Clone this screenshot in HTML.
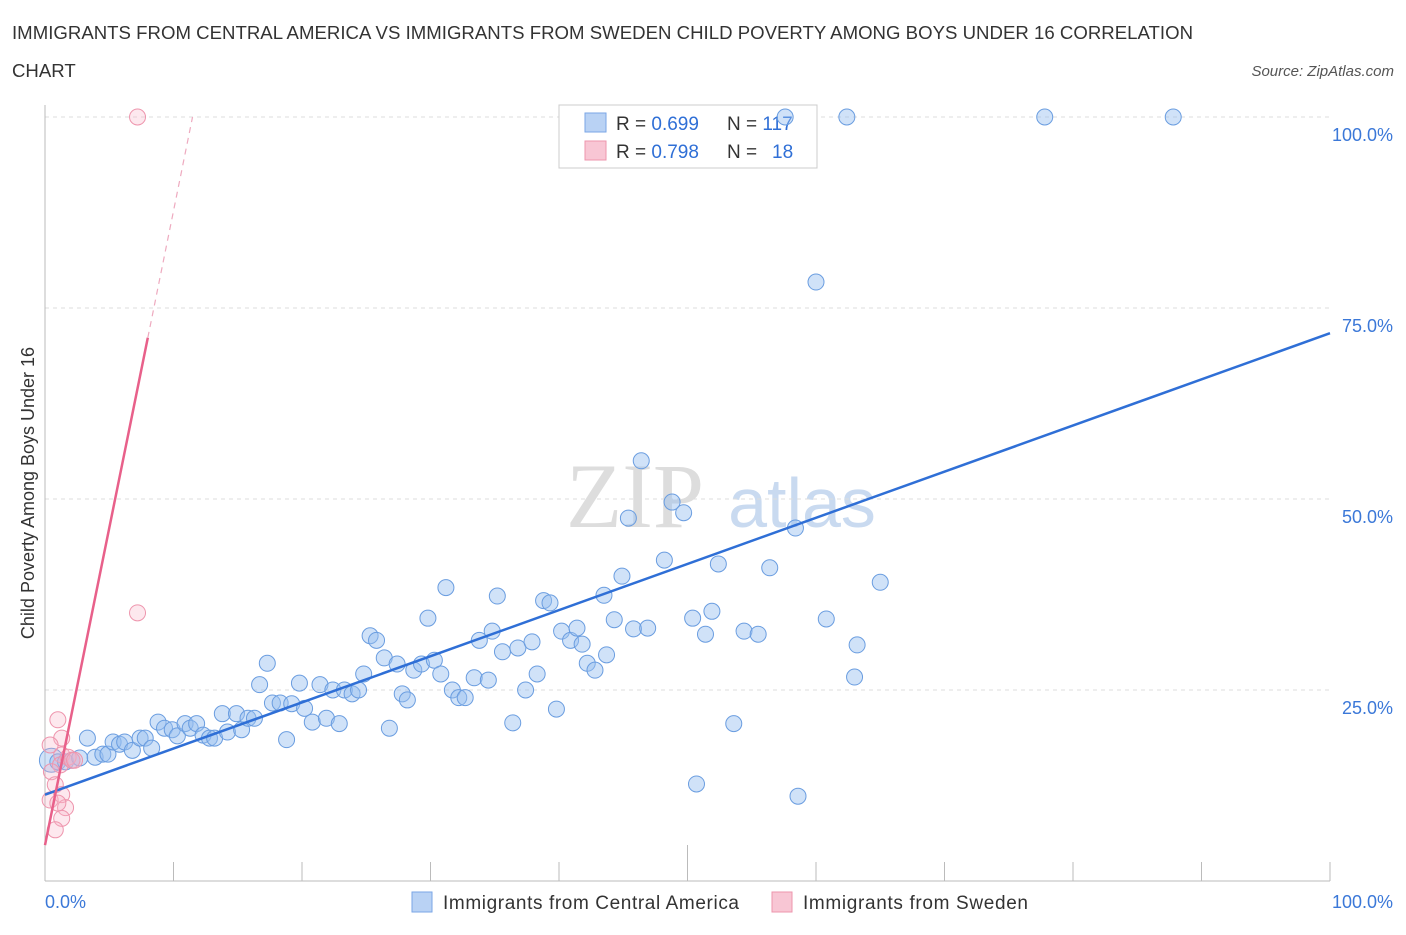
<!DOCTYPE html>
<html><head><meta charset="utf-8"><style>
body{margin:0;background:#fff;font-family:"Liberation Sans",sans-serif}
</style></head><body>
<svg id="c" width="1406" height="930" xmlns="http://www.w3.org/2000/svg">
<text x="12" y="39" font-size="18.6" fill="#333" textLength="1181">IMMIGRANTS FROM CENTRAL AMERICA VS IMMIGRANTS FROM SWEDEN CHILD POVERTY AMONG BOYS UNDER 16 CORRELATION</text>
<text x="12" y="77" font-size="18.6" fill="#333">CHART</text>
<text x="1394" y="76" font-size="15" fill="#555" font-style="italic" text-anchor="end">Source: ZipAtlas.com</text>
<text x="635" y="527" font-size="92" fill="#ddd" font-family="Liberation Serif,serif" text-anchor="middle">ZIP</text>
<text x="802" y="527" font-size="70" fill="#c9daf0" text-anchor="middle">atlas</text>
<text transform="translate(34,493) rotate(-90)" font-size="18" fill="#333" text-anchor="middle">Child Poverty Among Boys Under 16</text>
<g id="grid"></g>
<g>
<rect x="559" y="105" width="258" height="63" fill="#fff" stroke="#ccc"/>
<rect x="585" y="113" width="21" height="19" fill="#b9d2f4" stroke="#7aa6e6"/>
<rect x="585" y="141" width="21" height="19" fill="#f8c6d4" stroke="#ee95ad"/>
<text x="616" y="130" font-size="19" fill="#333">R = <tspan fill="#2f6fd6">0.699</tspan><tspan x="727">N = </tspan><tspan fill="#2f6fd6">117</tspan></text>
<text x="616" y="158" font-size="19" fill="#333">R = <tspan fill="#2f6fd6">0.798</tspan><tspan x="727">N = </tspan><tspan x="772" fill="#2f6fd6">18</tspan></text>
</g>
<g id="marks"></g>
<g>
<rect x="412" y="892" width="20" height="20" fill="#b9d2f4" stroke="#7aa6e6"/>
<text x="443" y="909" font-size="19" fill="#333" textLength="296">Immigrants from Central America</text>
<rect x="772" y="892" width="20" height="20" fill="#f8c6d4" stroke="#ee95ad"/>
<text x="803" y="909" font-size="19" fill="#333" textLength="225">Immigrants from Sweden</text>
</g>
</svg>
<script>
const blueX=[0.5,1.0,1.6,2.1,2.7,3.3,3.9,4.5,4.9,5.3,5.8,6.2,6.8,7.4,7.8,8.3,8.8,9.3,9.9,10.3,10.9,11.3,11.8,12.3,12.8,13.2,13.8,14.2,14.9,15.3,15.8,16.3,16.7,17.3,17.7,18.3,18.8,19.2,19.8,20.2,20.8,21.4,21.9,22.4,22.9,23.3,23.9,24.4,24.8,25.3,25.8,26.4,26.8,27.4,27.8,28.2,28.7,29.3,29.8,30.3,30.8,31.2,31.7,32.2,32.7,33.4,33.8,34.5,34.8,35.2,35.6,36.4,36.8,37.4,37.9,38.3,38.8,39.3,39.8,40.2,40.9,41.4,41.8,42.2,42.8,43.5,43.7,44.3,44.9,45.4,45.8,46.4,46.9,48.2,48.8,49.7,50.4,50.7,51.4,51.9,52.4,53.6,54.4,55.5,56.4,57.6,58.4,58.6,60.0,60.8,62.4,63.0,63.2,65.0,77.8,87.8];
const blueY=[15.8,15.6,15.6,15.8,16.1,18.7,16.2,16.6,16.6,18.2,17.9,18.2,17.1,18.7,18.7,17.4,20.8,20.0,19.8,19.0,20.6,20.0,20.6,19.1,18.7,18.7,21.9,19.5,21.9,19.8,21.3,21.3,25.7,28.5,23.3,23.3,18.5,23.2,25.9,22.6,20.8,25.7,21.3,25.0,20.6,25.0,24.5,25.0,27.1,32.1,31.5,29.2,20.0,28.4,24.5,23.7,27.6,28.4,34.4,28.9,27.1,38.4,25.0,24.0,24.0,26.6,31.5,26.3,32.7,37.3,30.0,20.7,30.5,25.0,31.3,27.1,36.7,36.4,22.5,32.7,31.5,33.1,31.0,28.5,27.6,37.4,29.6,34.2,39.9,47.5,33.0,55.0,33.1,42.0,49.6,48.2,34.4,12.7,32.3,35.3,41.5,20.6,32.7,32.3,41.0,100,46.2,11.1,78.4,34.3,100,26.7,30.9,39.1,100,100];
const pinkX=[7.2,7.2,1.0,1.3,1.3,1.2,1.8,2.1,2.3,0.4,0.5,0.8,0.4,1.3,1.6,1.0,1.3,0.8];
const pinkY=[100,35.1,21.1,18.7,16.5,15.2,16.2,15.8,15.8,17.8,14.3,12.6,10.6,11.3,9.6,10.2,8.2,6.7];
const blueFit=[11.3,71.7];
const pinkFit=[4.7,8.3];
const yTicks=[25,50,75,100];
const yTickLabels=["25.0%","50.0%","75.0%","100.0%"];
const xTicks=[0,10,20,30,40,50,60,70,80,90,100];
const NS="http://www.w3.org/2000/svg";
const sx=v=>45+v*12.85, sy=v=>881-v*7.64;
function mk(t,a,p){const e=document.createElementNS(NS,t);for(const k in a)e.setAttribute(k,a[k]);p.appendChild(e);return e;}
const g=document.getElementById('grid'), m=document.getElementById('marks');
yTicks.forEach((v,i)=>{
 const l=mk('line',{x1:45,x2:1330,y1:sy(v),y2:sy(v),stroke:'#ddd','stroke-dasharray':'4 4'},g);
 
 
 const t=mk('text',{x:1393,y:sy(v)+24,'font-size':18,fill:'#3b78d8','text-anchor':'end'},g);t.textContent=yTickLabels[i];
 
 
});
xTicks.forEach(v=>{
 const l=mk('line',{x1:sx(v),x2:sx(v),y1:v==50?845:862,y2:881,stroke:'#bbb'},g);
 
 
});
const ax=mk('line',{x1:45,x2:45,y1:105,y2:881,stroke:'#bbb'},g);


const bx=mk('line',{x1:45,x2:1330,y1:881,y2:881,stroke:'#bbb'},g);


[["0.0%",45,'start'],["100.0%",1393,'end']].forEach(a=>{const t=mk('text',{x:a[1],y:908,'font-size':18,fill:'#3b78d8','text-anchor':a[2]},g);t.textContent=a[0];
 
 });
blueX.forEach((x,i)=>{const c=mk('circle',{cx:sx(x),cy:sy(blueY[i]),r:i==0?12:8,fill:'rgba(150,190,240,0.45)',stroke:'#6a9de0','stroke-width':1},m);
 
 });
pinkX.forEach((x,i)=>{const c=mk('circle',{cx:sx(x),cy:sy(pinkY[i]),r:8,fill:'rgba(248,180,200,0.3)',stroke:'#ee95ad','stroke-width':1},m);
 
 });
const bl=mk('line',{x1:sx(0),y1:sy(blueFit[0]),x2:sx(100),y2:sy(blueFit[1]),stroke:'#2f6fd6','stroke-width':2.5},m);


const px1=8.0, px2=(100-pinkFit[0])/pinkFit[1];
const pl=mk('line',{x1:sx(0),y1:sy(pinkFit[0]),x2:sx(px1),y2:sy(pinkFit[0]+pinkFit[1]*px1),stroke:'#e8608a','stroke-width':2.5},m);


const pd=mk('line',{x1:sx(px1),y1:sy(pinkFit[0]+pinkFit[1]*px1),x2:sx(px2),y2:sy(100),stroke:'#eeaabf','stroke-width':1.2,'stroke-dasharray':'6 5'},m);


</script>
</body></html>
